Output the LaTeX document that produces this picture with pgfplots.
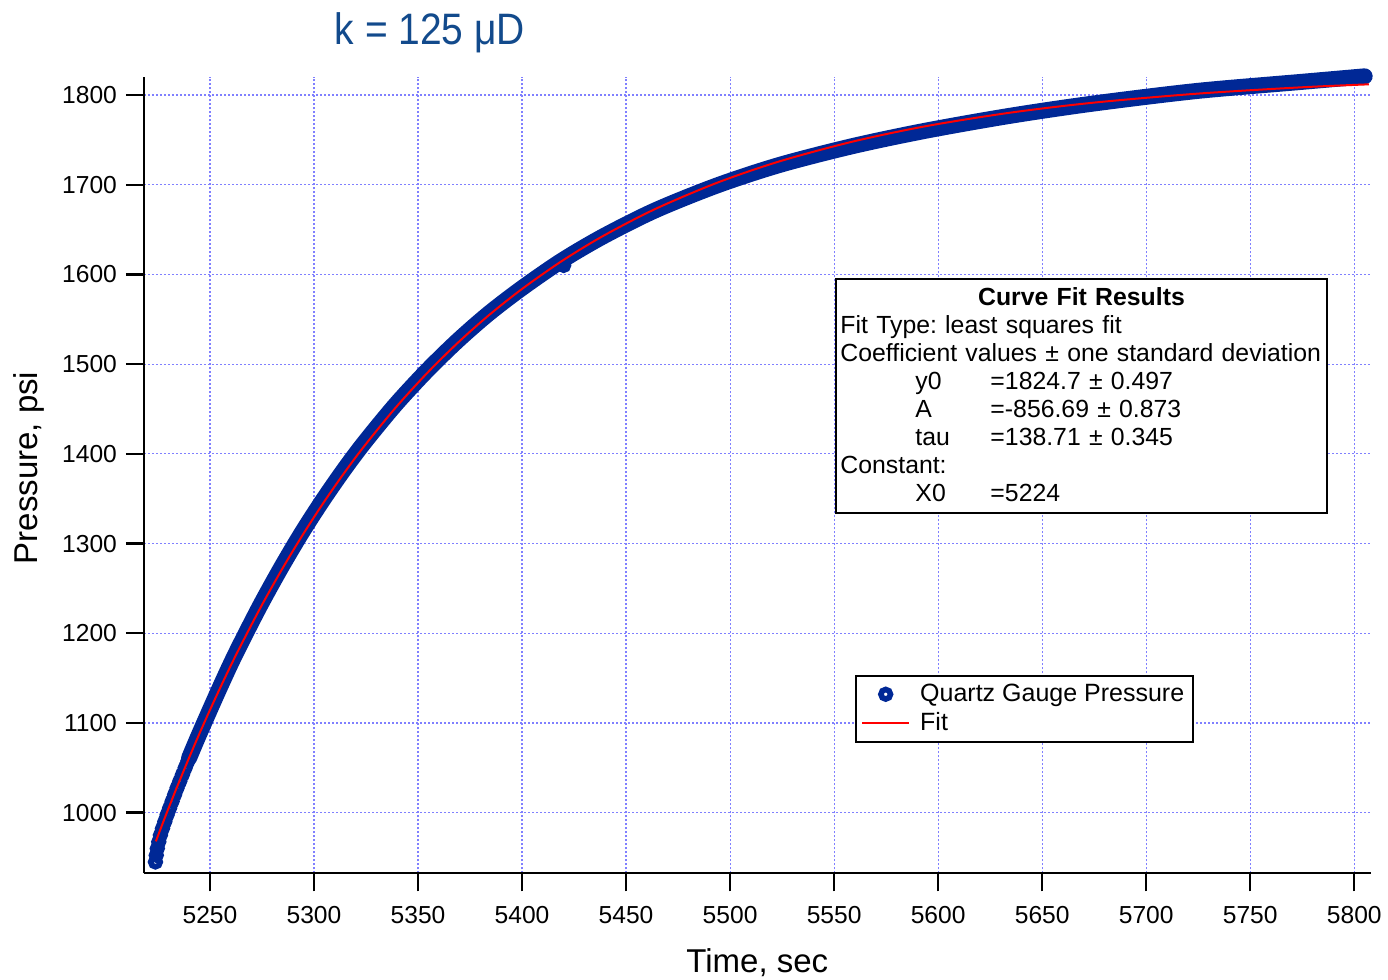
\documentclass[border=0pt]{standalone}
\usepackage{fontspec}
\setmainfont{Liberation Sans}
\usepackage{graphicx}
\usepackage{pgfplots}
\pgfplotsset{compat=1.18}

\definecolor{gaugeblue}{RGB}{0,40,150}
\definecolor{gridblue}{RGB}{128,128,255}
\definecolor{titleblue}{RGB}{18,74,140}

\pgfplotsset{
  markleg/.style={legend image code/.code={\draw[##1, mark repeat=2, mark phase=2] plot coordinates {(0pt,0pt)(11.75pt,0pt)(23.5pt,0pt)};}},
  lineleg/.style={legend image code/.code={\draw[##1] (0pt,0pt) -- (23.5pt,0pt);}},
}

\begin{document}
\frenchspacing
\begin{tikzpicture}
\fill[white, use as bounding box] (0,0) rectangle (694pt,490pt);
\begin{axis}[
  at={(72pt,53.35pt)}, anchor=south west,
  scale only axis, width=613.35pt, height=398.3pt,
  xmin=5218.3, xmax=5807.9, ymin=932.4, ymax=1820.4,
  axis x line=bottom, axis y line=left,
  axis line style={-, line width=1.2pt},
  xtick={5250,5300,...,5800}, ytick={1000,1100,...,1800},
  tick align=outside, major tick length=9pt,
  every tick/.style={black, line width=1.2pt},
  grid=major,
  major grid style={gridblue, line width=0.6pt, dash pattern=on 1pt off 1pt},
  tick label style={font=\fontsize{12.3}{14}\selectfont},
  xticklabel style={yshift=-4pt},
  yticklabel style={xshift=-1pt},
  /pgf/number format/assume math mode=true,
  /pgf/number format/set thousands separator={},
  xlabel={Time, sec}, ylabel={Pressure, psi},
  label style={font=\fontsize{16.5}{19}\selectfont},
  xlabel style={at={(axis description cs:0.5,-0.1125)}, anchor=center},
  ylabel style={at={(axis description cs:-0.0935,0.5088)}, anchor=center},
  clip=false, clip marker paths=true,
  legend style={at={(axis description cs:0.5796,0.2489)}, anchor=north west,
    draw=black, line width=1pt, fill=white, inner xsep=2.6pt,
    font=\fontsize{12.5}{15}\selectfont, legend cell align=left,
    /tikz/every odd column/.append style={column sep=3pt}},
]
% early samples, drawn as separate open circles
\addplot[only marks, mark=o, mark size=2.4pt, line width=2.8pt, gaugeblue, markleg]
  coordinates {
  (5223.8,945) (5224.2,952.5) (5224.7,960) (5225.4,967.5) (5226.2,975) (5227.2,982.5)
  (5228.3,990) (5229.4,997.5) (5230.6,1005) (5231.8,1012.5) (5233,1020) (5234.2,1027.5)
  (5235.5,1035) (5236.8,1042.5) (5238.1,1050) (5239.4,1057.5) (5240.7,1065) (5242,1072.5)
  (5420,1610)
  };
\addlegendentry{Quartz Gauge Pressure}
% the rest of the samples overlap into a solid band
\addplot[gaugeblue, line width=8pt, line cap=round, line join=round, smooth, no markers, forget plot]
  coordinates {
  (5240,1061) (5244,1083) (5249,1109.5) (5254,1135.6) (5259,1161) (5264,1185)
  (5274,1230.3) (5284,1272.3) (5294,1311.5) (5304,1347.5) (5314,1381) (5324,1412)
  (5339,1454.3) (5354,1492) (5369,1526) (5384,1556.4) (5400,1584.8) (5419,1615.2)
  (5439,1642.4) (5464,1671.4) (5494,1699.4) (5524,1722.2) (5559,1743.1) (5594,1760.2)
  (5634,1776.6) (5674,1790.3) (5724,1804.4) (5774,1814.5) (5805,1820.8)
  };
\addplot[red, line width=1pt, smooth, no markers, lineleg]
  coordinates {
  (5224,968.0) (5226,980.3) (5228,992.4) (5230,1004.3) (5232,1016.0) (5234,1027.6)
  (5239,1055.8) (5244,1083.1) (5249,1109.3) (5254,1134.6) (5259,1159.1) (5264,1182.6)
  (5274,1227.3) (5284,1268.8) (5294,1307.5) (5304,1343.5) (5314,1377.0) (5324,1408.1)
  (5339,1450.8) (5354,1489.1) (5369,1523.5) (5384,1554.4) (5400,1583.8) (5419,1614.7)
  (5439,1642.9) (5464,1672.9) (5494,1702.4) (5524,1726.2) (5559,1748.1) (5594,1765.2)
  (5634,1780.1) (5674,1791.3) (5724,1801.4) (5774,1808.5) (5807,1811.9)
  };
\addlegendentry{Fit}
\node[anchor=base, text=titleblue, font=\fontsize{22}{26}\selectfont]
  at (axis description cs:0.2331,1.0398) {\scalebox{0.885}[1]{k = 125 μD}};
\node[draw=black, line width=1pt, fill=white, anchor=north west, inner xsep=2.25pt, inner ysep=4.5pt,
  text width=241pt, align=left, font=\fontsize{12.4}{14}\selectfont]
  at (axis description cs:0.5633,0.7473) {%
  \makebox[\linewidth]{\textbf{Curve Fit Results}}\\
  \mbox{Fit Type: least squares fit}\\
  \mbox{Coefficient values ± one standard deviation}\\
  \hspace*{37.5pt}\makebox[37.5pt][l]{y0}=1824.7 ± 0.497\\
  \hspace*{37.5pt}\makebox[37.5pt][l]{A}=-856.69 ± 0.873\\
  \hspace*{37.5pt}\makebox[37.5pt][l]{tau}=138.71 ± 0.345\\
  Constant:\\
  \hspace*{37.5pt}\makebox[37.5pt][l]{X0}=5224\rule[-1pt]{0pt}{1pt}};
\end{axis}
\end{tikzpicture}
\end{document}
